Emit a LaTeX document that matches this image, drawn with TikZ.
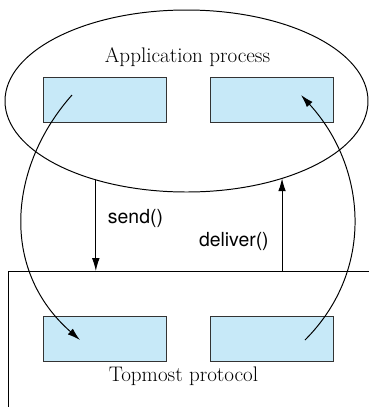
\documentclass[tikz,border=0pt]{standalone}
\usepackage{fontspec}
\setsansfont{TeX Gyre Heros}
\usetikzlibrary{shapes.geometric}
\usetikzlibrary{arrows.meta}
\definecolor{boxblue}{RGB}{199,233,248}

\begin{document}
\begin{tikzpicture}[inner sep=0pt,outer sep=0pt,line width=0.7pt,
procblock/.style={draw=black!80,fill=boxblue,rectangle,minimum width=3.075cm,minimum height=1.125cm},
calltext/.style={font=\sffamily\fontsize{13.8}{16}\selectfont},
layertext/.style={font=\fontsize{15}{18}\selectfont},
tip/.style={-{Latex[length=0.32cm,width=0.19cm]}}]

\useasboundingbox (0,0) rectangle (9.225,-10.175);

\draw (4.6625,-2.525) node[draw,ellipse,minimum width=9.075cm,minimum height=4.55cm] (app) {};
\draw (4.6875,-1.55) node[layertext,anchor=base] (apptext) {Application process};
\draw (2.6125,-2.4875) node[procblock] (app1) {};
\draw (6.8,-2.4875) node[procblock] (app2) {};

\coordinate (proto) at (0.2,-6.775);
\draw (9.3,-6.775) -- (proto) -- (0.2,-10.3);
\draw (2.6125,-8.4625) node[procblock] (top1) {};
\draw (6.8,-8.4625) node[procblock] (top2) {};
\draw (4.5875,-9.525) node[layertext,anchor=base] (toptext) {Topmost protocol};

% ends of the curved arrows, inside the boxes
\coordinate (out1) at (1.8,-2.375);
\coordinate (in1) at (2.0,-8.5);
\coordinate (out2) at (7.625,-8.5);
\coordinate (in2) at (7.525,-2.375);

\draw[tip] (out1) .. controls (0.225,-4.15) and (-0.025,-6.725) .. (in1);
\draw[tip] (out2) .. controls (9.4,-6.725) and (9.15,-4.15) .. (in2);

\draw[tip] (app.221) -- (app.221 |- proto);
\draw[tip] (app.321 |- proto) -- (app.321);
\draw (2.7,-5.575) node[calltext,anchor=base west] (send) {send()};
\draw (4.975,-6.15) node[calltext,anchor=base west] (deliver) {deliver()};
\end{tikzpicture}
\end{document}
